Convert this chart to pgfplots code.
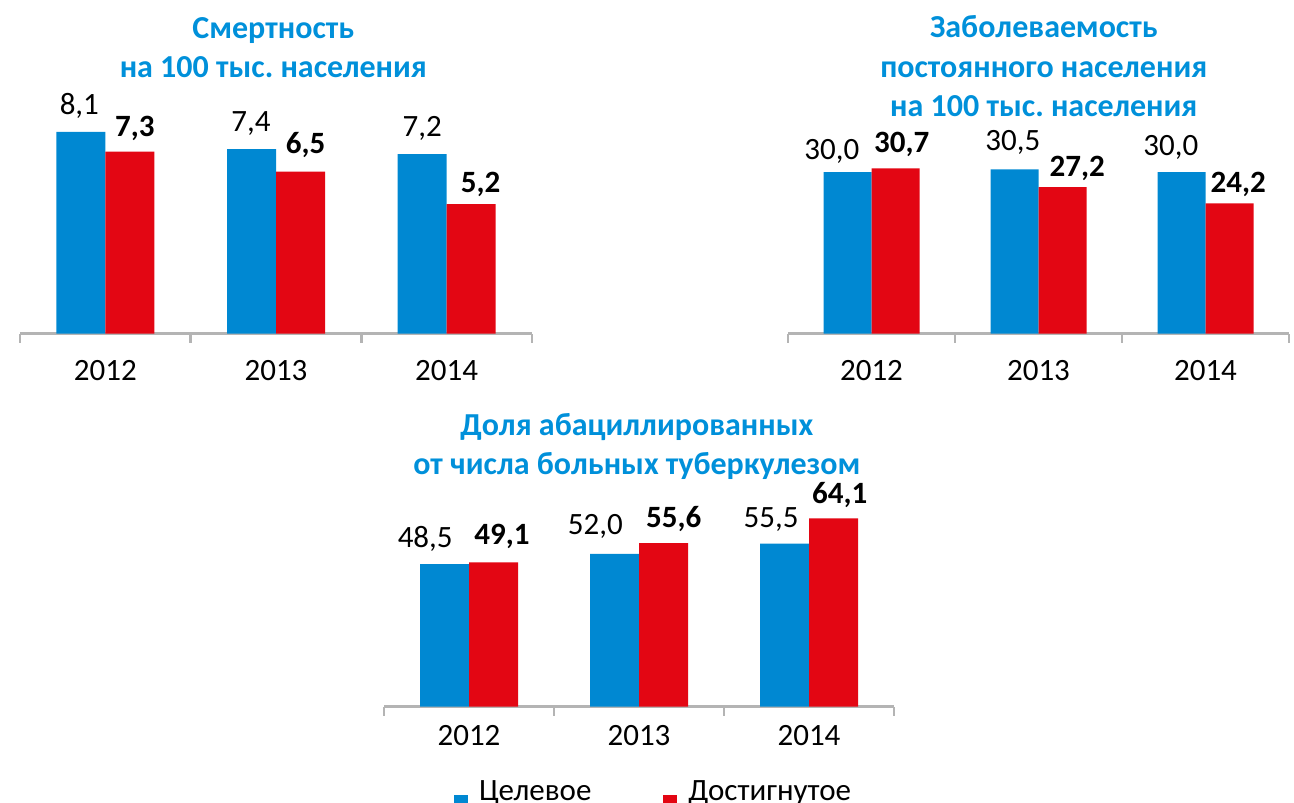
\documentclass[border=0pt]{standalone}
\usepackage{fontspec}
\setmainfont{Carlito}
\usepackage{pgfplots}
\pgfplotsset{compat=1.18}
\usepackage{pgfplotstable}
\frenchspacing
\definecolor{cblue}{HTML}{0088D2}
\definecolor{cred}{HTML}{E30613}
\definecolor{tblue}{HTML}{0090DA}
\definecolor{agray}{HTML}{B4B4B4}
\newcommand\lblfont{\fontsize{31}{37}\selectfont}
\newcommand\ttlfont{\fontsize{32}{39.4}\selectfont\bfseries}
\def\lbldx{0}
\def\lbldy{0}

% chart 1
\pgfplotstableread{
x y dx dy
0 8.1 -1.5 17
1 7.4 -0.5 17.3
2 7.2 0 17.7
}\tAb
\pgfplotstableread{
x y dx dy
0 7.3 5 15
1 6.5 5 17.7
2 5.2 9.5 12
}\tAr
% chart 2
\pgfplotstableread{
x y dx dy
0 30.0 -15.7 12.3
1 30.5 -1.7 19
2 30.0 -10.7 16.7
}\tBb
\pgfplotstableread{
x y dx dy
0 30.7 6.3 15.7
1 27.2 14.7 11
2 24.2 8.7 11
}\tBr
% chart 3
\pgfplotstableread{
x y dx dy
0 48.5 -19.3 16.3
1 52.0 -19.2 19.3
2 55.5 -13.5 16
}\tCb
\pgfplotstableread{
x y dx dy
0 49.1 8.5 18
1 55.6 10.3 16
2 64.1 6.2 14.3
}\tCr

\pgfplotsset{
  mybar/.style={
    scale only axis, ybar=0pt, ymin=0, xmin=-0.5, xmax=2.5,
    axis x line*=bottom, axis y line=none,
    xtick={0,1,2}, xticklabels={2012,2013,2014},
    major tick length=0pt,
    minor xtick={-0.5,0.5,1.5,2.5}, minor tick length=9pt,
    tick align=outside,
    tick style={line width=2.7pt, draw=agray},
    x axis line style={line width=2.7pt, draw=agray},
    clip=false,
    xticklabel style={font=\lblfont, text=black, anchor=base, inner sep=0pt},
    title style={font=\ttlfont, text=tblue, align=center, inner sep=0pt, anchor=north},
  },
  lbl/.style={
    visualization depends on={\thisrow{dx}\as\lbldx},
    visualization depends on={\thisrow{dy}\as\lbldy},
    nodes near coords={\pgfmathprintnumber[fixed,fixed zerofill,precision=1,use comma,assume math mode=true]{\pgfplotspointmeta}},
    every node near coord/.append style={font=\lblfont, text=black, anchor=base, inner sep=0pt, xshift=\lbldx pt, yshift=\lbldy pt},
  },
  bblue/.style={lbl, fill=cblue, draw=none},
  bred/.style={lbl, fill=cred, draw=none, every node near coord/.append style={font=\lblfont\bfseries}},
}

\begin{document}
\begin{tikzpicture}
\useasboundingbox (0,0) rectangle (1294pt,-803pt);

\begin{axis}[mybar, at={(20pt,-333.5pt)}, anchor=south west,
  width=512pt, height=249pt, ymax=10, bar width=49pt,
  xticklabel style={yshift=-46.5pt},
  title={Смертность\\на 100 тыс. населения},
  title style={at={(axis description cs:0.4948,1.2458)}}]
\addplot[bblue] table[x=x,y=y]{\tAb};
\addplot[bred] table[x=x,y=y]{\tAr};
\end{axis}

\begin{axis}[mybar, at={(788pt,-333.5pt)}, anchor=south west,
  width=501pt, height=215.2pt, ymax=40, bar width=48pt,
  xticklabel style={yshift=-46.5pt},
  title={Заболеваемость\\постоянного населения\\на 100 тыс. населения},
  title style={at={(axis description cs:0.5106,1.4488)}}]
\addplot[bblue] table[x=x,y=y]{\tBb};
\addplot[bred] table[x=x,y=y]{\tBr};
\end{axis}

\begin{axis}[mybar, at={(384pt,-706.7pt)}, anchor=south west,
  width=510pt, height=235.2pt, ymax=80, bar width=49pt,
  xticklabel style={yshift=-38.3pt},
  title={Доля абациллированных\\от числа больных туберкулезом},
  title style={at={(axis description cs:0.4957,1.223)}},
  legend columns=2,
  legend image code/.code={\fill[#1] (0pt,-17.2pt) rectangle (14pt,-3.2pt);},
  legend style={draw=none, fill=none, inner sep=0pt, font=\lblfont,
    at={(axis description cs:0.137,-0.3752)}, anchor=west,
    nodes={inner sep=0pt},
    /tikz/every odd column/.append style={column sep=11pt},
    /tikz/every even column/.append style={column sep=72pt}}]
\addplot[bblue] table[x=x,y=y]{\tCb};
\addplot[bred] table[x=x,y=y]{\tCr};
\legend{Целевое,Достигнутое}
\end{axis}
\end{tikzpicture}
\end{document}
